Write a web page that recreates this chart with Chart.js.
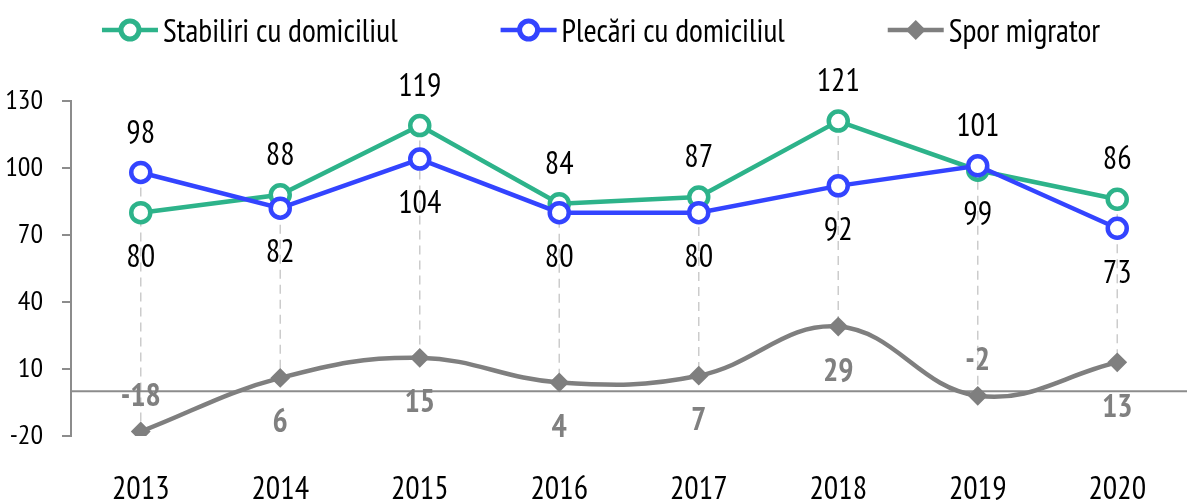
<!DOCTYPE html>
<html>
<head>
<meta charset="utf-8">
<script src="https://cdn.jsdelivr.net/npm/chart.js@4/dist/chart.umd.min.js"></script>
<style>
  html, body { margin: 0; padding: 0; background: #fff; overflow: hidden; }
  #wrap { width: 1201px; height: 510px; position: relative; }
</style>
</head>
<body>
<div id="wrap"><canvas id="chart"></canvas></div>
<script>
// data
const years = ["2013", "2014", "2015", "2016", "2017", "2018", "2019", "2020"];
const stabiliri = [80, 88, 119, 84, 87, 121, 99, 86];
const plecari = [98, 82, 104, 80, 80, 92, 101, 73];
const spor = [-18, 6, 15, 4, 7, 29, -2, 13];
const yTicks = [-20, 10, 40, 70, 100, 130];
const seriesNames = ["Stabiliri cu domiciliul", "Plecări cu domiciliul", "Spor migrator"];

const FONT = "'PT Sans Narrow', 'DejaVu Sans Condensed', sans-serif";
const GREEN = "#2db38a";
const BLUE = "#3344ff";
const GREY = "#7f7f7f";

// dashed high-low lines + horizontal zero line
const guides = {
    id: "guides",
    beforeDatasetsDraw(chart) {
        const ctx = chart.ctx;
        const x = chart.scales.x, y = chart.scales.y;
        ctx.save();
        ctx.strokeStyle = "#cccccc";
        ctx.lineWidth = 1.5;
        ctx.setLineDash([9, 6]);
        years.forEach((yr, i) => {
            const vals = chart.data.datasets.map((d) => d.data[i]);
            const px = x.getPixelForValue(i);
            ctx.beginPath();
            ctx.moveTo(px, y.getPixelForValue(Math.max(...vals)));
            ctx.lineTo(px, y.getPixelForValue(Math.min(...vals)));
            ctx.stroke();
        });
        ctx.setLineDash([]);
        ctx.strokeStyle = "#8c8c8c";
        ctx.lineWidth = 2;
        const y0 = y.getPixelForValue(0);
        ctx.beginPath();
        ctx.moveTo(chart.chartArea.left, y0);
        ctx.lineTo(chart.chartArea.right, y0);
        ctx.stroke();
        ctx.restore();
    },
};

// value labels above / below the points
const valueLabels = {
    id: "valueLabels",
    afterDatasetsDraw(chart) {
        const ctx = chart.ctx;
        const size = 32;
        ctx.save();
        ctx.textAlign = "center";
        ctx.textBaseline = "alphabetic";
        chart.data.datasets.forEach((ds, di) => {
            const meta = chart.getDatasetMeta(di);
            meta.data.forEach((pt, i) => {
                const v = ds.data[i];
                let above;
                if (di === 2) above = v < 0;
                else above = v > chart.data.datasets[1 - di].data[i];
                ctx.font = (di === 2 ? "bold " : "") + size + "px " + FONT;
                ctx.fillStyle = di === 2 ? "#808080" : "#000";
                const mid = pt.y + (above ? (di === 2 ? -37 : -41) : 43);
                ctx.fillText(String(v), pt.x, mid + size * 0.35);
            });
        });
        ctx.restore();
    },
};

// legend: line with marker, then the name
const topLegend = {
    id: "topLegend",
    afterDraw(chart) {
        const ctx = chart.ctx;
        const markW = 56, gapText = 5, gapItem = 103, cy = 30, base = 42;
        ctx.save();
        ctx.font = "32px " + FONT;
        ctx.textBaseline = "alphabetic";
        const items = chart.data.datasets.map((ds) => ({
            text: ds.label, color: ds.borderColor, style: ds.pointStyle,
            w: markW + gapText + ctx.measureText(ds.label).width,
        }));
        const total = items.reduce((s, it) => s + it.w, 0) + gapItem * (items.length - 1);
        let x = 601 - total / 2;
        items.forEach((it) => {
            ctx.strokeStyle = it.color;
            ctx.lineWidth = 4.5;
            ctx.beginPath();
            ctx.moveTo(x, cy);
            ctx.lineTo(x + markW, cy);
            ctx.stroke();
            const mx = x + markW / 2;
            ctx.beginPath();
            if (it.style === "rectRot") {
                ctx.fillStyle = it.color;
                ctx.moveTo(mx - 10, cy);
                ctx.lineTo(mx, cy - 10);
                ctx.lineTo(mx + 10, cy);
                ctx.lineTo(mx, cy + 10);
                ctx.closePath();
                ctx.fill();
            } else {
                ctx.fillStyle = "#fff";
                ctx.lineWidth = 5;
                ctx.arc(mx, cy, 9, 0, Math.PI * 2);
                ctx.fill();
                ctx.stroke();
            }
            ctx.fillStyle = "#000";
            ctx.textAlign = "left";
            ctx.fillText(it.text, x + markW + gapText, base);
            x += it.w + gapItem;
        });
        ctx.restore();
    },
};

new Chart(document.getElementById("chart"), {
    type: "line",
    data: {
        labels: years,
        datasets: [
            {
                label: seriesNames[0], data: stabiliri, order: 2,
                borderColor: GREEN, backgroundColor: "#fff", borderWidth: 4.5,
                pointStyle: "circle", pointRadius: 9.5, pointBorderWidth: 4.5,
                pointBackgroundColor: "#fff", tension: 0,
            },
            {
                label: seriesNames[1], data: plecari, order: 1,
                borderColor: BLUE, backgroundColor: "#fff", borderWidth: 4.5,
                pointStyle: "circle", pointRadius: 9.5, pointBorderWidth: 4.5,
                pointBackgroundColor: "#fff", tension: 0,
            },
            {
                label: seriesNames[2], data: spor, order: 0,
                borderColor: GREY, backgroundColor: GREY, borderWidth: 4.5,
                pointStyle: "rectRot", pointRadius: 8.5, pointBorderWidth: 2,
                pointBackgroundColor: GREY, tension: 0.4,
            },
        ],
    },
    options: {
        responsive: true,
        maintainAspectRatio: false,
        animation: false,
        layout: { padding: { top: 101, left: 0, right: 0, bottom: 0 } },
        plugins: { legend: { display: false }, tooltip: { enabled: false } },
        scales: {
            x: {
                offset: true,
                grid: { display: false, drawTicks: false },
                border: { display: false },
                afterFit: (s) => { s.height = 74; },
                ticks: { font: { family: FONT, size: 32 }, color: "#000", padding: 35, maxRotation: 0, autoSkip: false },
            },
            y: {
                min: yTicks[0],
                max: yTicks[yTicks.length - 1],
                afterBuildTicks: (s) => { s.ticks = yTicks.map((v) => ({ value: v })); },
                afterFit: (s) => { s.width = 71; },
                grid: { drawOnChartArea: false, drawTicks: true, tickLength: 9, color: "#8c8c8c", lineWidth: 2 },
                border: { display: true, color: "#8c8c8c", width: 2 },
                ticks: { font: { family: FONT, size: 28 }, color: "#000", padding: 19 },
            },
        },
    },
    plugins: [guides, valueLabels, topLegend],
});
</script>
</body>
</html>
